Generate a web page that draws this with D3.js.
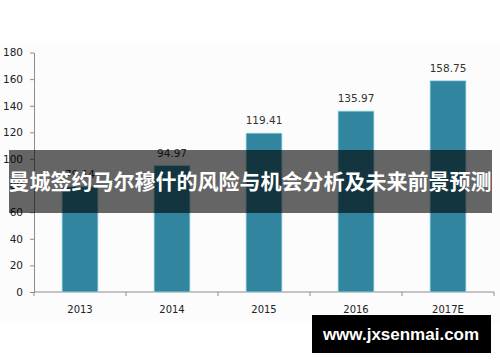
<!DOCTYPE html>
<html>
<head>
<meta charset="utf-8">
<script src="https://cdn.jsdelivr.net/npm/d3@7"></script>
<style>
  body { margin: 0; background: #ffffff; }
  svg { display: block; }
</style>
</head>
<body>
<div id="chart"></div>
<script>
// data
var years = ['2013', '2014', '2015', '2016', '2017E'];
var values = [79.14, 94.97, 119.41, 135.97, 158.75];
var yTicks = [0, 20, 40, 60, 80, 100, 120, 140, 160, 180];
var title = '曼城签约马尔穆什的风险与机会分析及未来前景预测';
var watermark = 'www.jxsenmai.com';

var W = 500, H = 362;
var margin = {top: 52.5, right: 6, bottom: 70, left: 34};
var width = W - margin.left - margin.right,
    height = H - margin.top - margin.bottom;

var svg = d3.select('#chart').append('svg')
  .attr('width', W)
  .attr('height', H);

// faint grey plot background
svg.append('rect')
  .attr('x', 0).attr('y', 43)
  .attr('width', W).attr('height', 280)
  .attr('fill', '#fcfcfc');

var g = svg.append('g')
  .attr('transform', 'translate(' + margin.left + ',' + margin.top + ')');

var x = d3.scaleBand()
  .domain(years)
  .range([0, width])
  .padding(0);

var y = d3.scaleLinear()
  .domain([0, 180])
  .range([height, 0]);

var axisColor = '#8c8c8c';
var font = '"DejaVu Sans", sans-serif';

// Y axis
var yAxis = g.append('g')
  .call(d3.axisLeft(y).tickValues(yTicks).tickSize(4).tickSizeOuter(0).tickPadding(7));
yAxis.select('.domain').attr('stroke', axisColor);
yAxis.selectAll('line').attr('stroke', axisColor);
yAxis.selectAll('text').attr('fill', '#222').style('font-family', font).style('font-size', '10.5px');

// X axis: ticks sit on band boundaries
var xAxis = g.append('g')
  .attr('transform', 'translate(0,' + height + ')');
xAxis.append('line')
  .attr('x1', 0).attr('x2', width)
  .attr('stroke', axisColor);
xAxis.selectAll('.xtick')
  .data(years.concat(['end']))
  .enter()
  .append('line')
  .attr('x1', function (d, i) { return i * x.step(); })
  .attr('x2', function (d, i) { return i * x.step(); })
  .attr('y1', 0).attr('y2', 4)
  .attr('stroke', axisColor);
xAxis.selectAll('.xlabel')
  .data(years)
  .enter()
  .append('text')
  .attr('x', function (d) { return x(d) + x.bandwidth() / 2; })
  .attr('y', 21)
  .attr('text-anchor', 'middle')
  .attr('fill', '#222')
  .style('font-family', font)
  .style('font-size', '10px')
  .text(function (d) { return d; });

// bars
var barW = x.bandwidth() * 0.39;
g.append('g')
  .selectAll('rect')
  .data(values)
  .enter()
  .append('rect')
  .attr('x', function (d, i) { return x(years[i]) + (x.bandwidth() - barW) / 2; })
  .attr('y', function (d) { return y(d); })
  .attr('width', barW)
  .attr('height', function (d) { return height - y(d); })
  .attr('fill', '#31859f')
  .attr('stroke', '#a6dde6')
  .attr('stroke-width', 0.8);

// value labels
g.append('g')
  .selectAll('text')
  .data(values)
  .enter()
  .append('text')
  .attr('x', function (d, i) { return x(years[i]) + x.bandwidth() / 2; })
  .attr('y', function (d) { return y(d) - 9; })
  .attr('text-anchor', 'middle')
  .attr('fill', '#333')
  .style('font-family', font)
  .style('font-size', '10.5px')
  .text(function (d) { return d.toFixed(2); });

// title banner over the chart
svg.append('rect')
  .attr('x', 9).attr('y', 150)
  .attr('width', 483).attr('height', 63)
  .attr('fill', 'rgba(0,0,0,0.6)');
svg.append('text')
  .attr('x', 250).attr('y', 189)
  .attr('text-anchor', 'middle')
  .attr('fill', '#ffffff')
  .style('font-family', '"Noto Sans CJK SC", sans-serif')
  .style('font-weight', 'bold')
  .style('font-size', '21px')
  .text(title);

// watermark
svg.append('rect')
  .attr('x', 312).attr('y', 315)
  .attr('width', 179).attr('height', 38)
  .attr('fill', '#000');
svg.append('text')
  .attr('x', 401).attr('y', 340)
  .attr('text-anchor', 'middle')
  .attr('fill', '#ffffff')
  .style('font-family', '"Liberation Sans", Arial, sans-serif')
  .style('font-weight', 'bold')
  .style('font-size', '17px')
  .text(watermark);
</script>
</body>
</html>
